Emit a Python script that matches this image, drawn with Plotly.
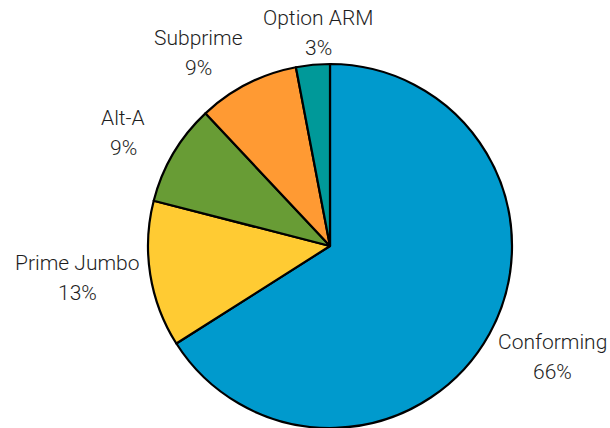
import plotly.graph_objects as go

labels = ["Conforming", "Prime Jumbo", "Alt-A", "Subprime", "Option ARM"]
values = [66, 13, 9, 9, 3]
colors = ["#009ACD", "#FFCB33", "#689C35", "#FF9A33", "#009999"]

W, H = 610, 428
fig = go.Figure(go.Pie(
    labels=labels, values=values, sort=False, direction="clockwise", rotation=0,
    marker=dict(colors=colors, line=dict(color="black", width=2.2)),
    textinfo="none",
    domain=dict(x=[148 / W, 512 / W], y=[0.0, 364 / H]),
    showlegend=False, hoverinfo="skip",
))

# label placement (pixel centres of the name line), layout only
label_pos = {
    "Conforming": (552, 342),
    "Prime Jumbo": (77, 263),
    "Alt-A": (123, 118),
    "Subprime": (198, 38),
    "Option ARM": (318, 18),
}
total = sum(values)
font = dict(family="Roboto", size=21, color="#1e1e1e", weight=300)
annotations = []
for lab, val in zip(labels, values):
    px, py = label_pos[lab]
    pct = f"{round(100 * val / total)}%"
    for text, yy in ((lab, py), (pct, py + 30)):
        annotations.append(dict(
            text=text, x=px / W, y=1 - yy / H, xref="paper", yref="paper",
            xanchor="center", yanchor="middle", showarrow=False, font=font,
        ))

fig.update_layout(width=W, height=H, margin=dict(l=0, r=0, t=0, b=0),
                  paper_bgcolor="white", plot_bgcolor="white",
                  annotations=annotations)
fig.write_html("out.html")
